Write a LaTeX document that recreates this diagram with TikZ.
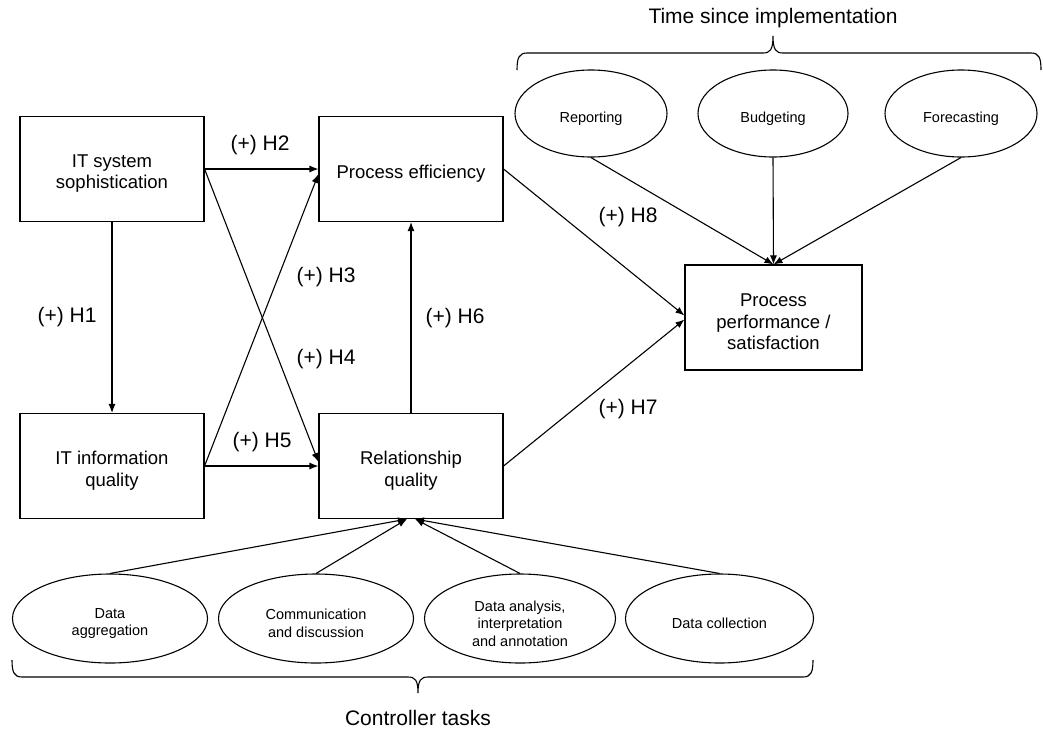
\documentclass[tikz,border=0pt]{standalone}
\usepackage{fontspec}
\setmainfont{Liberation Sans}
\usetikzlibrary{arrows.meta,shapes.geometric,calc}
\begin{document}
\begin{tikzpicture}[x=1pt,y=-1pt,
  every node/.style={align=center},
  construct/.style={draw, line width=1.1pt, minimum width=184pt, minimum height=105pt, inner sep=2pt},
  constructtext/.style={font=\fontsize{18.5}{21.5}\selectfont, yshift=-4.5pt},
  facet/.style={draw, ellipse, line width=1.1pt, inner sep=0pt},
  facettext/.style={font=\fontsize{14.5}{17.5}\selectfont, yshift=-5pt},
  hyp/.style={font=\fontsize{21}{24}\selectfont},
  grouplabel/.style={font=\fontsize{21}{24}\selectfont},
  link/.style={line width=1.1pt, -{Latex[length=9pt,width=7pt]}},
  bracket/.style={line width=1.1pt}]

\useasboundingbox (0,0) rectangle (1043,728);

% main constructs
\node[construct, label={[constructtext]center:IT system\\sophistication}] (its) at (112,169) {};
\node[construct, label={[constructtext]center:Process efficiency}] (pe) at (411,169) {};
\node[construct, label={[constructtext]center:IT information\\quality}] (iti) at (112,466) {};
\node[construct, label={[constructtext]center:Relationship\\quality}] (rq) at (411,466) {};
\node[construct, minimum width=177pt, label={[constructtext]center:Process\\performance /\\satisfaction}] (pps) at (773.5,317.5) {};

% time since implementation
\node[facet, minimum width=152pt, minimum height=87pt, label={[facettext]center:Reporting}] (rep) at (591,113.5) {};
\node[facet, minimum width=150pt, minimum height=87pt, label={[facettext]center:Budgeting}] (bud) at (773,113.5) {};
\node[facet, minimum width=152pt, minimum height=87pt, label={[facettext]center:Forecasting}] (fore) at (961,113.5) {};

% controller tasks
\node[facet, minimum width=195pt, minimum height=89pt, label={[facettext]center:Data\\aggregation}] (dag) at (110,618.5) {};
\node[facet, minimum width=195pt, minimum height=89pt, label={[facettext]center:Communication\\and discussion}] (com) at (316,618.5) {};
\node[facet, minimum width=191pt, minimum height=89pt, label={[facettext]center:Data analysis,\\interpretation\\and annotation}] (dan) at (520,618.5) {};
\node[facet, minimum width=188pt, minimum height=89pt, label={[facettext]center:Data collection}] (dcol) at (719.5,618.5) {};

% hypotheses
\draw[link] (its) -- (iti);
\draw[link] (its.east) -- (its.east -| pe.west);
\draw[link] (iti.east) -- ([yshift=-5pt]pe.west);
\draw[link] (its.east) -- ([yshift=4pt]rq.west);
\draw[link] (iti.east) -- (iti.east -| rq.west);
\draw[link] (rq) -- (pe);
\draw[link] (pe.east) -- ([yshift=2pt]pps.west);
\draw[link] (rq.east) -- ([yshift=-2pt]pps.west);

\node[hyp] (h1) at (67,317) {(+) H1};
\node[hyp] (h2) at (260,145) {(+) H2};
\node[hyp] (h3) at (326,277) {(+) H3};
\node[hyp] (h4) at (326,359) {(+) H4};
\node[hyp] (h5) at (262,442) {(+) H5};
\node[hyp] (h6) at (455,318) {(+) H6};
\node[hyp] (h7) at (628,409) {(+) H7};
\node[hyp] (h8) at (628,217) {(+) H8};

% moderators and antecedents
\draw[link] (rep.south) -- (pps.north);
\draw[link] (bud.south) -- (pps.north);
\draw[link] (fore.south) -- (pps.north);

\draw[link] (dag.north) -- ([xshift=-4pt]rq.south);
\draw[link] (com.north) -- ([xshift=-4pt]rq.south);
\draw[link] (dan.north) -- ([xshift=4pt]rq.south);
\draw[link] (dcol.north) -- ([xshift=4pt]rq.south);

% braces
\coordinate (tl) at (517,70);
\coordinate (tt) at (773,36);
\coordinate (tr) at (1041,70);
\draw[bracket] (tl) .. controls (517,58) and (519,53) .. (527,53) -- (763,53)
  .. controls (770,53) and (773,50) .. (tt)
  .. controls (773,50) and (776,53) .. (783,53) -- (1031,53)
  .. controls (1039,53) and (1041,58) .. (tr);
\node[grouplabel] (tsi) at (773,18) {Time since implementation};

\coordinate (bl) at (12,660);
\coordinate (bt) at (418,693);
\coordinate (br) at (813,660);
\draw[bracket] (bl) .. controls (12,672) and (14,677) .. (22,677) -- (408,677)
  .. controls (415,677) and (418,680) .. (bt)
  .. controls (418,680) and (421,677) .. (428,677) -- (803,677)
  .. controls (811,677) and (813,672) .. (br);
\node[grouplabel] (ct) at (418,718) {Controller tasks};
\end{tikzpicture}
\end{document}
